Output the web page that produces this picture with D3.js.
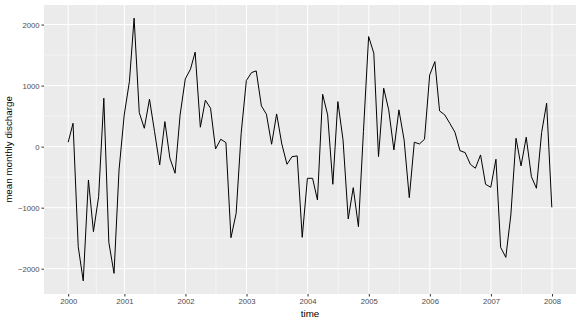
<!DOCTYPE html>
<html>
<head>
<meta charset="utf-8">
<script src="https://cdn.jsdelivr.net/npm/d3@7"></script>
<style>
  body { margin: 0; background: #fff; }
  svg { display: block; font-family: "Liberation Sans", Arial, sans-serif; }
</style>
</head>
<body>
<script>
// monthly values, Jan 2000 .. Dec 2007
let discharge = [
  72, 383, -1639, -2199, -546, -1393, -820, 793, -1568, -2076, -382, 520,
  1066, 2105, 557, 301, 777, 250, -300, 410, -190, -436, 520, 1110,
  1269, 1548, 318, 760, 629, -38, 121, 66, -1492, -1093, 219, 1082,
  1213, 1241, 667, 531, 39, 536, 44, -289, -164, -152, -1486, -519,
  -519, -874, 858, 520, -617, 738, 110, -1185, -672, -1311, 250, 1803,
  1531, -164, 957, 602, -54, 602, 110, -836, 72, 44, 121, 1175,
  1393, 585, 520, 383, 236, -66, -98, -289, -354, -136, -617, -666,
  -207, -1650, -1814, -1120, 137, -316, 154, -492, -682, 230, 711, -994
];
let firstMonth = "2000-01";
let yearTicks = ["2000-01-31", "2001-01-01", "2002-01-01", "2003-01-01", "2004-01-01",
  "2005-01-01", "2006-01-01", "2007-01-01", "2008-01-01"];
let yTicks = [-2000, -1000, 0, 1000, 2000];

let W = 581, H = 323;
let m = {left: 44, right: 5, top: 5, bottom: 29};

// each value sits at the last day of its month
let start = d3.utcParse("%Y-%m")(firstMonth);
let data = discharge.map((v, i) => ({
  date: d3.utcDay.offset(d3.utcMonth.offset(start, i + 1), -1),
  value: v
}));
let tickDates = yearTicks.map(d3.utcParse("%Y-%m-%d"));

let svg = d3.select("body").append("svg").attr("width", W).attr("height", H);

// ggplot-ish 5% expansion
let xExt = d3.extent(data, d => d.date);
let xPad = (xExt[1] - xExt[0]) * 0.05;
let x = d3.scaleUtc()
  .domain([new Date(+xExt[0] - xPad), new Date(+xExt[1] + xPad)])
  .range([m.left, W - m.right]);

let yExt = d3.extent(data, d => d.value);
let yPad = (yExt[1] - yExt[0]) * 0.05;
let y = d3.scaleLinear()
  .domain([yExt[0] - yPad, yExt[1] + yPad])
  .range([H - m.bottom, m.top]);

// panel
svg.append("rect").attr("x", m.left).attr("y", m.top)
  .attr("width", W - m.left - m.right).attr("height", H - m.top - m.bottom)
  .attr("fill", "#ebebeb");

let grid = svg.append("g");
// minor grid lines halfway between majors
let xMinor = d3.pairs(tickDates).map(p => new Date((+p[0] + +p[1]) / 2));
let yMinor = d3.pairs(yTicks).map(p => (p[0] + p[1]) / 2);
grid.selectAll(".xminor").data(xMinor).join("line")
  .attr("x1", d => x(d)).attr("x2", d => x(d))
  .attr("y1", m.top).attr("y2", H - m.bottom)
  .attr("stroke", "#fff").attr("stroke-width", 0.5);
grid.selectAll(".yminor").data(yMinor).join("line")
  .attr("y1", d => y(d)).attr("y2", d => y(d))
  .attr("x1", m.left).attr("x2", W - m.right)
  .attr("stroke", "#fff").attr("stroke-width", 0.5);
grid.selectAll(".xmajor").data(tickDates).join("line")
  .attr("x1", d => x(d)).attr("x2", d => x(d))
  .attr("y1", m.top).attr("y2", H - m.bottom)
  .attr("stroke", "#fff").attr("stroke-width", 1);
grid.selectAll(".ymajor").data(yTicks).join("line")
  .attr("y1", d => y(d)).attr("y2", d => y(d))
  .attr("x1", m.left).attr("x2", W - m.right)
  .attr("stroke", "#fff").attr("stroke-width", 1);

// the series
let line = d3.line().x(d => x(d.date)).y(d => y(d.value));
svg.append("path").datum(data).attr("d", line)
  .attr("fill", "none").attr("stroke", "#000").attr("stroke-width", 1)
  .attr("stroke-linejoin", "round");

// axes
let xAxis = svg.append("g").attr("transform", `translate(0,${H - m.bottom})`)
  .call(d3.axisBottom(x).tickValues(tickDates).tickFormat(d3.utcFormat("%Y")).tickSize(2.5).tickPadding(2));
let yAxis = svg.append("g").attr("transform", `translate(${m.left},0)`)
  .call(d3.axisLeft(y).tickValues(yTicks).tickFormat(d => d < 0 ? "\u2212" + Math.abs(d) : d).tickSize(2.5).tickPadding(2));
[xAxis, yAxis].forEach(a => {
  a.select(".domain").remove();
  a.selectAll(".tick line").attr("stroke", "#333");
  a.selectAll(".tick text").attr("fill", "#4d4d4d").style("font-size", "7.7px");
});

svg.append("text").attr("x", (m.left + W - m.right) / 2).attr("y", 317)
  .attr("text-anchor", "middle").style("font-size", "9.8px").attr("fill", "#000")
  .text("time");
svg.append("text").attr("transform", `translate(12,${(m.top + H - m.bottom) / 2}) rotate(-90)`)
  .attr("text-anchor", "middle").style("font-size", "9.8px").attr("fill", "#000")
  .text("mean monthly discharge");
</script>
</body>
</html>
